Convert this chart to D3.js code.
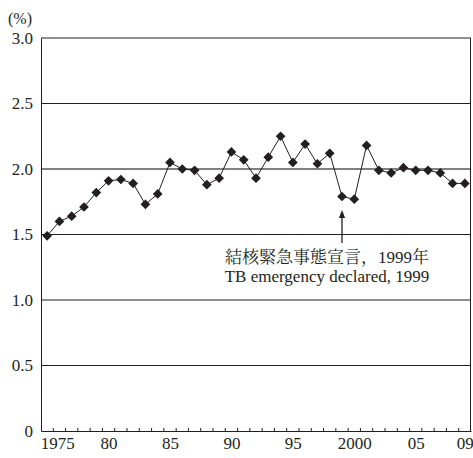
<!DOCTYPE html>
<html>
<head>
<meta charset="utf-8">
<script src="https://cdn.jsdelivr.net/npm/d3@7"></script>
<style>
  body { margin: 0; background: #fff; }
</style>
</head>
<body>
<script>
const years = d3.range(1975, 2010);
const rates = [1.49, 1.60, 1.64, 1.71, 1.82, 1.91, 1.92, 1.89, 1.73, 1.81,
               2.05, 2.00, 1.99, 1.88, 1.93, 2.13, 2.07, 1.93, 2.09, 2.25,
               2.05, 2.19, 2.04, 2.12, 1.79, 1.77, 2.18, 1.99, 1.97, 2.01,
               1.99, 1.99, 1.97, 1.89, 1.89];
const xTickYears = [1975, 1980, 1985, 1990, 1995, 2000, 2005, 2009];
const xTickLabels = ["1975", "80", "85", "90", "95", "2000", "05", "09"];
const yTicks = [0, 0.5, 1.0, 1.5, 2.0, 2.5, 3.0];
const noteLines = ["結核緊急事態宣言，1999年", "TB emergency declared, 1999"];
const noteYear = 1999;

const width = 473, height = 458;
const margin = { top: 38, right: 2, bottom: 27, left: 41 };
const serif = '"Liberation Serif", "Noto Serif CJK JP"';
const ink = "#231f20";

const svg = d3.select("body").append("svg")
    .attr("width", width)
    .attr("height", height);

const x = d3.scaleLinear()
    .domain([1974.5, 2009.5])
    .range([margin.left, width - margin.right]);

const y = d3.scaleLinear()
    .domain([0, 3])
    .range([height - margin.bottom, margin.top]);

// gridlines (2.0 is grey and heavier)
svg.append("g")
    .selectAll("line")
    .data(yTicks.filter(d => d > 0))
    .enter().append("line")
    .attr("x1", x.range()[0])
    .attr("x2", x.range()[1])
    .attr("y1", d => y(d))
    .attr("y2", d => y(d))
    .attr("stroke", d => d === 2.0 ? "#808080" : ink)
    .attr("stroke-width", d => d === 2.0 ? 2 : 1);

// right border
svg.append("line")
    .attr("x1", x.range()[1] - 0.5).attr("x2", x.range()[1] - 0.5)
    .attr("y1", y(3)).attr("y2", y(0))
    .attr("stroke", ink);

// y axis
const yAxis = svg.append("g")
    .attr("transform", `translate(${margin.left},0)`)
    .call(d3.axisLeft(y).tickValues(yTicks).tickSize(0).tickPadding(8)
        .tickFormat(d => d === 0 ? "0" : d3.format(".1f")(d)));
yAxis.attr("font-family", serif).attr("font-size", 17);
yAxis.select(".domain").attr("stroke", ink);
yAxis.selectAll("text").attr("fill", ink);

svg.append("text")
    .attr("x", 8)
    .attr("y", 24)
    .attr("font-family", serif)
    .attr("font-size", 16)
    .attr("fill", ink)
    .text("(%)");

// x axis
const xAxis = svg.append("g")
    .attr("transform", `translate(0,${y(0)})`)
    .call(d3.axisBottom(x).tickValues(xTickYears).tickSize(0).tickPadding(6)
        .tickFormat((d, i) => xTickLabels[i]));
xAxis.attr("font-family", serif).attr("font-size", 17);
xAxis.select(".domain").attr("stroke", ink);
xAxis.selectAll("text").attr("fill", ink);
xAxis.selectAll(".tick").filter(d => d === 1975).select("text").attr("dx", 10);

// small inward ticks at year boundaries
svg.append("g")
    .selectAll("line")
    .data(d3.range(1975.5, 2009, 1))
    .enter().append("line")
    .attr("x1", d => x(d))
    .attr("x2", d => x(d))
    .attr("y1", y(0))
    .attr("y2", y(0) - 3)
    .attr("stroke", ink);

// data line
const line = d3.line()
    .x((d, i) => x(years[i]))
    .y(d => y(d));

svg.append("path")
    .datum(rates)
    .attr("fill", "none")
    .attr("stroke", ink)
    .attr("stroke-width", 1)
    .attr("d", line);

// diamond markers
svg.append("g")
    .selectAll("path")
    .data(rates)
    .enter().append("path")
    .attr("d", d3.symbol().type(d3.symbolDiamond2).size(60))
    .attr("transform", (d, i) => `translate(${x(years[i])},${y(d)})`)
    .attr("fill", ink);

// annotation arrow
const ax = x(noteYear);
svg.append("defs").append("marker")
    .attr("id", "arrow")
    .attr("viewBox", "0 0 10 10")
    .attr("refX", 5).attr("refY", 5)
    .attr("markerWidth", 6).attr("markerHeight", 6)
    .attr("orient", "auto")
    .append("path")
    .attr("d", "M0,1 L10,5 L0,9 Z")
    .attr("fill", ink);

svg.append("line")
    .attr("x1", ax).attr("x2", ax)
    .attr("y1", 243).attr("y2", 214)
    .attr("stroke", ink)
    .attr("stroke-width", 1.3)
    .attr("marker-end", "url(#arrow)");

svg.append("g")
    .selectAll("text")
    .data(noteLines)
    .enter().append("text")
    .attr("x", 327)
    .attr("y", (d, i) => 263 + i * 19)
    .attr("text-anchor", "middle")
    .attr("font-family", serif)
    .attr("font-size", 17)
    .attr("fill", ink)
    .text(d => d);
</script>
</body>
</html>
